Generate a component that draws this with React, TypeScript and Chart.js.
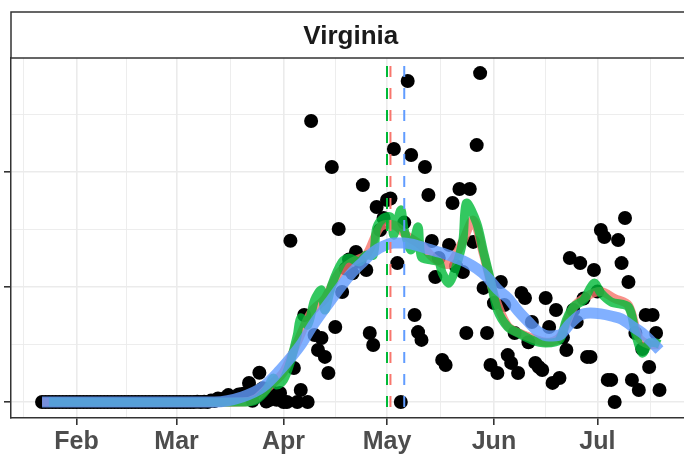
import React, { useEffect, useRef } from 'react';
import { Chart, registerables } from 'chart.js';

Chart.register(...registerables);

// Day index 0 = Jan 22
const panelTitle = 'Virginia';
const dailyCases = [
  0, 0, 0, 0, 0, 0, 0, 0, 0, 0,
  0, 0, 0, 0, 0, 0, 0, 0, 0, 0,
  0, 0, 0, 0, 0, 0, 0, 0, 0, 0,
  0, 0, 0, 0, 0, 0, 0, 0, 0, 0,
  0, 0, 0, 0, 0,
  1, 0, 1, 0, 6, 4, 15, 9, 17, 30, 16, 20, 33, 35, 38,
  83, 5, 46, 127, 60, 2, 9, 40, 10, 39,
  0, 0, 701, 148, 0, 52, 378, 0, 1222, 291,
  226, 278, 196, 126, 1022, 326, 752, 478, 580, 620,
  560, 652, 610, 943, 574, 300, 248, 848, 748, 800,
  878, 885, 1100, 604, 0, 780, 1396, 1074, 378, 304,
  270, 1022, 900, 700, 543, 626, 183, 161, 683, 865,
  590, 926, 565, 300, 926, 696, 1117, 1430, 496, 300,
  161, 430, 126, 522, 422, 204, 170, 300, 126, 474,
  452, 260, 348, 170, 152, 139, 452, 326, 83, 400,
  104, 280, 226, 626, 400, 348, 604, 450, 196, 196,
  574, 480, 748, 717, 96, 96, 0, 704, 604, 800,
  522, 96, 300, 52, 230, 378, 152, 378, 300, 52,
];

const redDays = [0, 58, 62, 66, 70, 74, 78, 82, 86, 90, 94, 98, 102, 106, 110, 114, 118, 122, 125, 128, 131, 135, 140, 146, 150, 154, 158, 162, 166, 170, 173, 176, 179];
const redValues = [0, 0, 15, 70, 130, 260, 390, 450, 560, 610, 640, 760, 770, 720, 680, 620, 600, 700, 790, 640, 470, 330, 290, 260, 280, 410, 460, 480, 450, 420, 280, 250, 250];

const greenDays = [2, 59, 62, 65, 67, 68, 70, 72, 74, 75, 77, 79, 81, 82, 84, 87, 89, 92, 94, 96, 97, 99, 101, 102, 104, 105, 107, 109, 110, 113, 115, 116, 118, 120, 122, 123, 126, 128, 130, 132, 135, 138, 142, 146, 150, 152, 154, 157, 160, 162, 165, 170, 172, 174, 176, 178, 179];
const greenValues = [0, 0, 9, 52, 104, 74, 96, 174, 291, 365, 335, 443, 487, 400, 509, 609, 626, 609, 639, 639, 757, 800, 804, 726, 835, 748, 661, 761, 630, 617, 609, 561, 517, 587, 704, 865, 778, 652, 530, 400, 326, 300, 270, 257, 270, 357, 413, 443, 517, 474, 435, 413, 300, 213, 257, 257, 250];

const blueDays = [0, 50, 58, 64, 69, 72, 75, 78, 81, 84, 87, 90, 93, 96, 99, 102, 105, 108, 111, 114, 117, 120, 123, 126, 129, 132, 135, 138, 141, 144, 147, 150, 153, 156, 159, 162, 165, 168, 171, 174, 177, 179];
const blueValues = [0, 0, 22, 65, 139, 191, 248, 322, 387, 448, 509, 565, 609, 652, 678, 691, 691, 683, 670, 656, 643, 626, 607, 580, 543, 491, 452, 396, 348, 304, 287, 291, 339, 378, 387, 383, 374, 361, 330, 300, 257, 226];

const vlineGreenDay = 100;
const vlineRedDay = 101;
const vlineBlueDay = 105;

const monthTickDays = [10, 39, 70, 100, 131, 161];
const monthLabels = ['Feb', 'Mar', 'Apr', 'May', 'Jun', 'Jul'];
const minorTickDays = [-5.5, 24.5, 54.5, 85, 115.5, 146, 176.5];
const yMajorTicks = [0, 500, 1000];
const yMinorTicks = [250, 750, 1250];

const X_MIN = -9;
const X_MAX = 186.1;
const PANEL_RIGHT_DAY = 188;
const Y_MIN = -69.6;
const Y_MAX = 1495.7;

const RED = '#F8766D';
const GREEN = '#00BA38';
const BLUE = '#619CFF';

const pairs = (xs: number[], ys: number[]) => xs.map((x, i) => ({ x, y: ys[i] }));

const stripPlugin = {
  id: 'strip',
  afterDraw(chart: any) {
    const ctx = chart.ctx;
    const { left, top } = chart.chartArea;
    const xs = chart.scales.x;
    const right = xs.getPixelForValue(PANEL_RIGHT_DAY);
    const cx = xs.getPixelForValue((X_MIN + PANEL_RIGHT_DAY) / 2);
    ctx.save();
    ctx.fillStyle = '#ffffff';
    ctx.fillRect(left, 12, right - left, top - 12);
    ctx.strokeStyle = '#333333';
    ctx.lineWidth = 1.5;
    ctx.strokeRect(left, 12, right - left, top - 12);
    ctx.fillStyle = '#1a1a1a';
    ctx.font = 'bold 26px "Liberation Sans", Arial, sans-serif';
    ctx.textAlign = 'center';
    ctx.textBaseline = 'alphabetic';
    ctx.fillText(panelTitle, cx, 44);
    ctx.restore();
  },
};

export default function App() {
  const ref = useRef<HTMLCanvasElement | null>(null);

  useEffect(() => {
    if (!ref.current) return;
    const vline = (day: number, color: string, order: number) => ({
      type: 'line' as const,
      data: [{ x: day, y: Y_MAX }, { x: day, y: Y_MIN }],
      borderColor: color,
      borderWidth: 2,
      borderDash: [11, 11],
      borderDashOffset: 14,
      pointRadius: 0,
      order,
    });
    const chart = new Chart(ref.current, {
      type: 'scatter',
      data: {
        datasets: [
          {
            type: 'scatter',
            data: dailyCases.map((v, i) => ({ x: i, y: v })),
            backgroundColor: '#000000',
            borderWidth: 0,
            pointRadius: 7,
            pointHoverRadius: 7,
            order: 10,
          },
          {
            type: 'line',
            data: pairs(redDays, redValues),
            borderColor: 'rgba(248,118,109,0.8)',
            borderWidth: 9,
            pointRadius: 0,
            tension: 0.3,
            borderJoinStyle: 'round',
            order: 9,
          },
          {
            type: 'line',
            data: pairs(greenDays, greenValues),
            borderColor: 'rgba(0,186,56,0.8)',
            borderWidth: 9,
            pointRadius: 0,
            tension: 0.3,
            borderJoinStyle: 'round',
            order: 8,
          },
          {
            type: 'line',
            data: pairs(blueDays, blueValues),
            borderColor: 'rgba(97,156,255,0.8)',
            borderWidth: 11,
            pointRadius: 0,
            cubicInterpolationMode: 'monotone',
            borderJoinStyle: 'round',
            order: 7,
          },
          vline(vlineGreenDay, GREEN, 3),
          vline(vlineRedDay, RED, 2),
          vline(vlineBlueDay, BLUE, 1),
        ] as any,
      },
      options: {
        animation: false,
        responsive: false,
        devicePixelRatio: 1,
        events: [],
        layout: { autoPadding: false, padding: { top: 58, left: 0, right: 0, bottom: 0 } },
        plugins: {
          legend: { display: false },
          tooltip: { enabled: false },
          title: { display: false },
        },
        scales: {
          x: {
            type: 'linear',
            min: X_MIN,
            max: X_MAX,
            afterBuildTicks: (scale: any) => {
              scale.ticks = [...minorTickDays, ...monthTickDays]
                .sort((a, b) => a - b)
                .map((v) => ({ value: v }));
            },
            afterFit: (scale: any) => {
              scale.height = 38;
              scale.paddingLeft = 0;
              scale.paddingRight = 0;
            },
            ticks: {
              autoSkip: false,
              maxRotation: 0,
              minRotation: 0,
              padding: 2,
              color: '#4d4d4d',
              font: { family: '"Liberation Sans", Arial, sans-serif', size: 25, weight: 'bold' },
              callback: (value: any) => {
                const k = monthTickDays.indexOf(Number(value));
                return k >= 0 ? monthLabels[k] : '';
              },
            },
            grid: {
              color: '#ebebeb',
              lineWidth: (ctx: any) => (monthTickDays.includes(ctx.tick?.value) ? 1.6 : 0.9),
              tickColor: (ctx: any) => (monthTickDays.includes(ctx.tick?.value) ? '#333333' : 'rgba(0,0,0,0)'),
              tickWidth: 1.6,
              tickLength: 7,
              drawTicks: true,
            },
            border: { display: true, color: '#333333', width: 1.5 },
          },
          y: {
            type: 'linear',
            min: Y_MIN,
            max: Y_MAX,
            afterBuildTicks: (scale: any) => {
              scale.ticks = [...yMajorTicks, ...yMinorTicks]
                .sort((a, b) => a - b)
                .map((v) => ({ value: v }));
            },
            afterFit: (scale: any) => {
              scale.width = 11;
              scale.paddingTop = 0;
              scale.paddingBottom = 0;
            },
            ticks: { display: false },
            grid: {
              color: '#ebebeb',
              lineWidth: (ctx: any) => (yMajorTicks.includes(ctx.tick?.value) ? 1.6 : 0.9),
              tickColor: (ctx: any) => (yMajorTicks.includes(ctx.tick?.value) ? '#333333' : 'rgba(0,0,0,0)'),
              tickWidth: 1.6,
              tickLength: 7,
              drawTicks: true,
            },
            border: { display: true, color: '#333333', width: 1.5 },
          },
        },
      } as any,
      plugins: [stripPlugin],
    });
    return () => chart.destroy();
  }, []);

  return (
    <div style={{ position: 'fixed', left: 0, top: 0, width: 684, height: 456, background: '#ffffff' }}>
      <canvas ref={ref} width={684} height={456} style={{ display: 'block', width: 684, height: 456 }} />
    </div>
  );
}
